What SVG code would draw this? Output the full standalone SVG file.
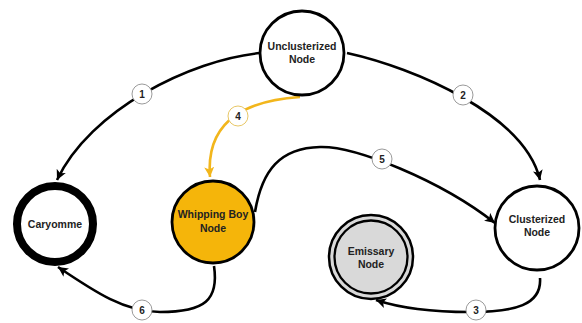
<svg xmlns="http://www.w3.org/2000/svg" width="582" height="323" viewBox="0 0 582 323">
  <style>
    .lbl { font-family: "Liberation Sans", Arial, sans-serif; font-weight: bold; font-size: 10.5px; fill: #222; text-anchor: middle; }
    .edge { fill: none; stroke: #000; stroke-width: 2.6; }
    .edge-y { fill: none; stroke: #F2B61C; stroke-width: 2.6; }
    .badge { fill: #fff; stroke: #9a9a9a; stroke-width: 1; }
    .badge-y { fill: #fff; stroke: #E8C766; stroke-width: 1; }
    .num { font-family: "Liberation Sans", Arial, sans-serif; font-weight: bold; font-size: 10px; fill: #222; text-anchor: middle; }
    .node { fill: #fff; stroke: #000; stroke-width: 2.8; }
  </style>
  <defs>
    <marker id="arrow" markerUnits="userSpaceOnUse" markerWidth="12" markerHeight="10" refX="10" refY="5" orient="auto">
      <path d="M0,0 L10,5 L0,10 L2.5,5 z" fill="#000"/>
    </marker>
    <marker id="arrow-y" markerUnits="userSpaceOnUse" markerWidth="12" markerHeight="10" refX="10" refY="5" orient="auto">
      <path d="M0,0 L10,5 L0,10 L2.5,5 z" fill="#F2B61C"/>
    </marker>
  </defs>
  <rect width="582" height="323" fill="#fff"/>

  <!-- connectors -->
  <g id="connectors">
    <path class="edge" d="M260,53 C190,60 90,110 57,180" marker-end="url(#arrow)"/>
    <path class="edge" d="M347,53 C415,68 525,115 540,180" marker-end="url(#arrow)"/>
    <path class="edge-y" d="M300,97 C255,100 205,115 210,177" marker-end="url(#arrow-y)"/>
    <path class="edge" d="M255,212 C262,170 280,148 320,147 C355,146 440,180 495,223" marker-end="url(#arrow)"/>
    <path class="edge" d="M540,278 C542,305 515,312 470,312 C430,312 400,308 376,300" marker-end="url(#arrow)"/>
    <path class="edge" d="M214,266 C219,300 205,312 160,312 C125,312 95,292 58,267" marker-end="url(#arrow)"/>

    <circle class="badge" cx="142" cy="94" r="10"/>
    <text class="num" x="142" y="97.5">1</text>
    <circle class="badge" cx="463" cy="95" r="10"/>
    <text class="num" x="463" y="98.5">2</text>
    <circle class="badge" cx="476" cy="310" r="10"/>
    <text class="num" x="476" y="313.5">3</text>
    <circle class="badge-y" cx="238" cy="116" r="10"/>
    <text class="num" x="238" y="119.5">4</text>
    <circle class="badge" cx="382" cy="159" r="10"/>
    <text class="num" x="382" y="162.5">5</text>
    <circle class="badge" cx="142" cy="310" r="10"/>
    <text class="num" x="142" y="313.5">6</text>
  </g>

  <!-- nodes -->
  <g id="unclusterized">
    <circle class="node" cx="302" cy="53" r="42"/>
    <text class="lbl" x="302" y="50">Unclusterized</text>
    <text class="lbl" x="302" y="63">Node</text>
  </g>
  <g id="caryomme">
    <circle cx="55" cy="224" r="38" fill="#fff" stroke="#000" stroke-width="8"/>
    <text class="lbl" x="55" y="228">Caryomme</text>
  </g>
  <g id="whipping-boy">
    <circle cx="213" cy="222" r="41" fill="#F5B50A" stroke="#000" stroke-width="2.8"/>
    <text class="lbl" x="213" y="218">Whipping Boy</text>
    <text class="lbl" x="213" y="232">Node</text>
  </g>
  <g id="emissary">
    <circle cx="371" cy="257" r="42" fill="#d9d9d9" stroke="#000" stroke-width="2.5"/>
    <circle cx="371" cy="257" r="36.5" fill="none" stroke="#000" stroke-width="2.3"/>
    <text class="lbl" x="371" y="255">Emissary</text>
    <text class="lbl" x="371" y="268">Node</text>
  </g>
  <g id="clusterized">
    <circle class="node" cx="537" cy="228" r="42"/>
    <text class="lbl" x="537" y="223">Clusterized</text>
    <text class="lbl" x="537" y="236">Node</text>
  </g>
</svg>
